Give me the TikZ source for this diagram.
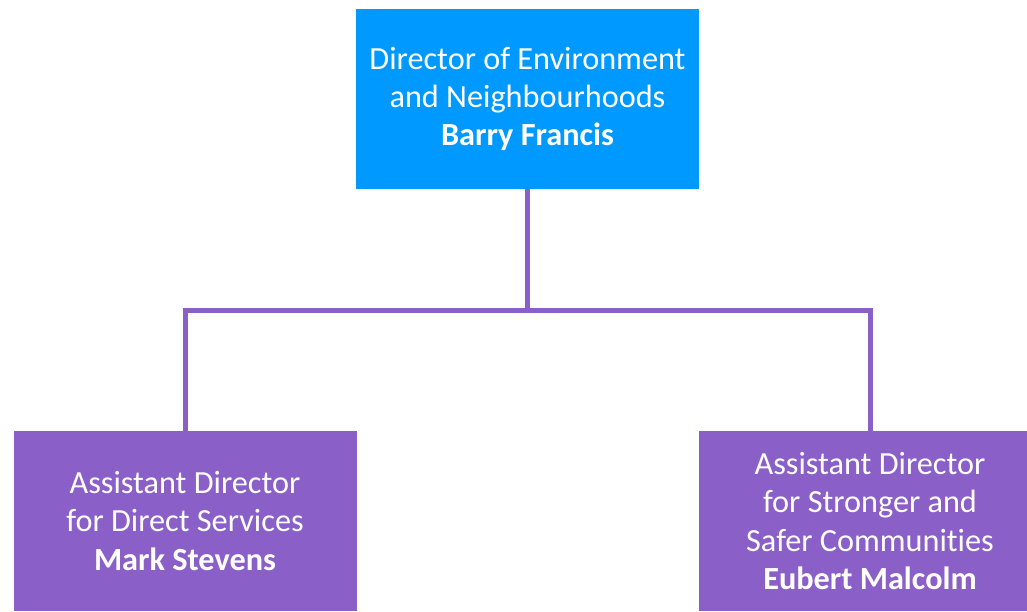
\documentclass[tikz,border=0pt]{standalone}
\usepackage{fontspec}
\setmainfont{Carlito}[Ligatures=NoCommon]
\definecolor{dirblue}{RGB}{0, 153, 255}
\definecolor{adpurple}{RGB}{138, 95, 200}
\usetikzlibrary{positioning}

\begin{document}
\begin{tikzpicture}[
    x=0.75pt, y=-0.75pt,
    headbox/.style={fill=dirblue, text=white, minimum width=343*0.75pt, minimum height=180*0.75pt, align=center, inner sep=0pt, font=\fontsize{24.2}{28.6}\selectfont},
    subbox/.style={fill=adpurple, text=white, minimum width=343*0.75pt, minimum height=180*0.75pt, align=center, inner sep=0pt, font=\fontsize{24.2}{28.6}\selectfont},
    link/.style={draw=adpurple, line width=3.75pt}
]
    \useasboundingbox (0,0) rectangle (1027,611);
    \begin{scope}
    \clip (0,0) rectangle (1027,611);
    \node[headbox] (dir) at (527.5,99) {Director of Environment\\and Neighbourhoods\\\textbf{Barry Francis}};
    \node[subbox] (ads) at (185,521) {Assistant Director\\for Direct Services\\\textbf{Mark Stevens}};
    \node[subbox] (adc) at (870,521) {Assistant Director\\for Stronger and\\Safer Communities\\\textbf{Eubert Malcolm}};
    \coordinate (bus) at (527.5,310);
    \draw[link] (dir.south) -- (bus);
    \draw[link] (ads.north) |- (bus) -| (adc.north);
    \end{scope}
\end{tikzpicture}
\end{document}
